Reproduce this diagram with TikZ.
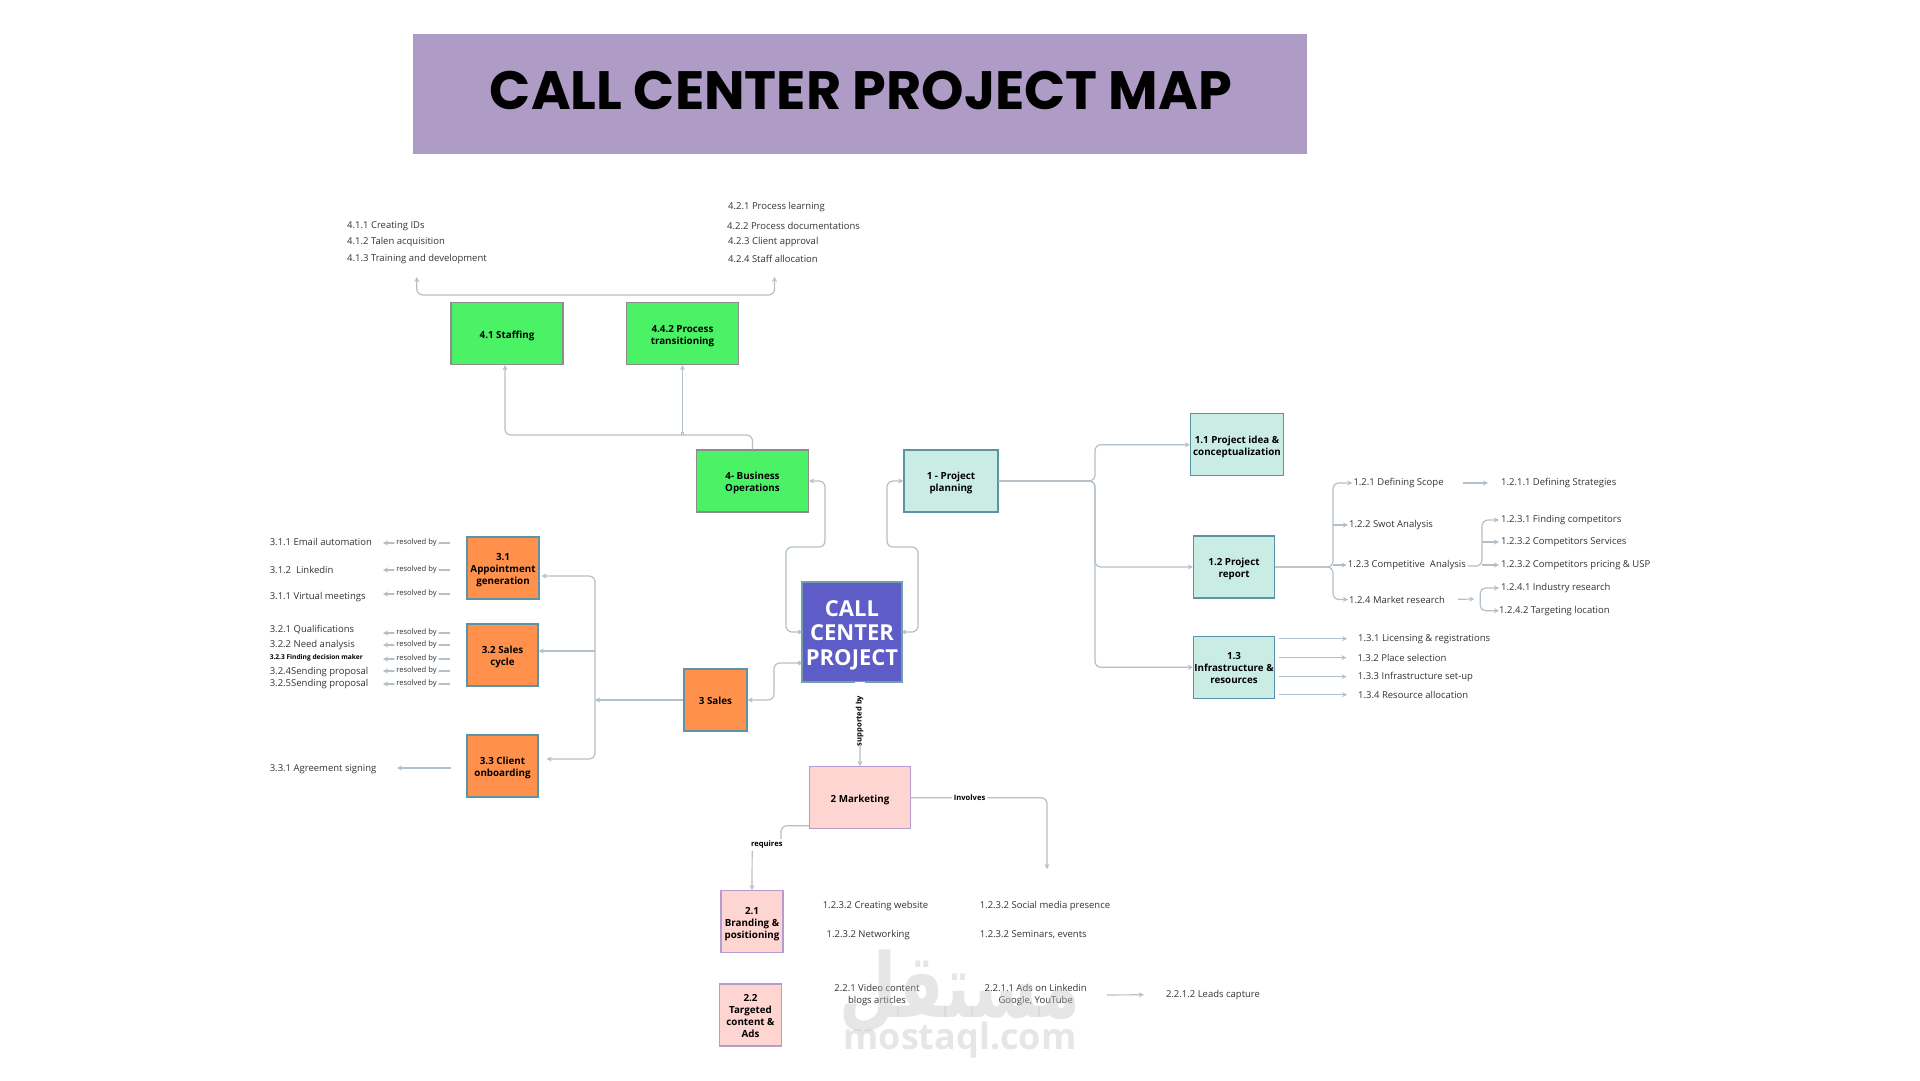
\documentclass[tikz,border=0pt]{standalone}
\usepackage{fontspec}
\setmainfont{Open Sans}
\newfontfamily\titlefont{Poppins}
\newfontfamily\arabicfont[Script=Arabic]{DejaVu Sans}
\TeXXeTstate=1
\usepackage{xcolor}
\definecolor{TitlePurple}{HTML}{AE9CC7}
\definecolor{CoreBlue}{HTML}{5E5CC7}
\definecolor{CoreEdge}{HTML}{6FA0AC}
\definecolor{PlanTeal}{HTML}{C9EDE5}
\definecolor{PlanEdge}{HTML}{5B93A8}
\definecolor{OpsGreen}{HTML}{4BF266}
\definecolor{OpsEdge}{HTML}{8C8C8C}
\definecolor{SalesOrange}{HTML}{FF914D}
\definecolor{MarketPink}{HTML}{FFD5D1}
\definecolor{MarketEdge}{HTML}{B39DD0}
\definecolor{FlowGray}{HTML}{B4C0C9}
\definecolor{ItemText}{HTML}{333333}
\usetikzlibrary{arrows.meta, positioning, calc}
\newcommand{\boxtxt}[1]{\rule{0pt}{12pt}#1\rule[-3pt]{0pt}{3pt}}

\begin{document}
\begin{tikzpicture}[
  x=1pt, y=-1pt,
  % Kaesten
  mapbox/.style={
    draw=#1,
    line width=1.3pt,
    align=center,
    inner sep=0pt,
    font=\fontsize{9.8}{12}\selectfont\bfseries
  },
  tealbox/.style={mapbox=PlanEdge, fill=PlanTeal},
  greenbox/.style={mapbox=OpsEdge, fill=OpsGreen},
  orangebox/.style={mapbox=PlanEdge, fill=SalesOrange},
  pinkbox/.style={mapbox=MarketEdge, fill=MarketPink},
  % Texte
  item/.style={
    anchor=west,
    inner sep=0pt,
    yshift=-1pt,
    text=ItemText,
    font=\fontsize{9.5}{11.5}\selectfont
  },
  midlbl/.style={
    fill=white,
    inner sep=2pt,
    text=ItemText,
    font=\fontsize{7.6}{9}\selectfont
  },
  boldlbl/.style={
    fill=white,
    inner sep=2pt,
    font=\fontsize{7.6}{9}\selectfont\bfseries
  },
  % Verbinder
  flow/.style={
    draw=FlowGray,
    line width=1.2pt,
    rounded corners=6pt,
    -{Stealth[length=5pt,width=5pt]}
  },
  flowboth/.style={
    flow,
    {Stealth[length=5pt,width=5pt]}-{Stealth[length=5pt,width=5pt]}
  },
  flowdot/.style={
    flow,
    {Circle[open,fill=white,length=4pt,width=4pt]}-{Stealth[length=5pt,width=5pt]}
  }
]

\useasboundingbox (0,0) rectangle (1920,1080);
\fill[white] (0,0) rectangle (1920,1080);

% =============================================================================
% TITEL
% =============================================================================
\node[fill=TitlePurple, minimum width=894pt, minimum height=120pt, inner sep=0pt] (titlebg) at (860,93.5) {};
\node[font=\fontsize{54}{60}\selectfont\titlefont\bfseries, inner sep=0pt] (title) at (861,90) {CALL CENTER PROJECT MAP};

% =============================================================================
% MITTE
% =============================================================================
\node[draw=CoreEdge, fill=CoreBlue, line width=1.3pt, text=white, align=center, inner sep=0pt,
      minimum width=100pt, minimum height=100pt,
      font=\fontsize{22}{24.7}\selectfont\bfseries] (ccp) at (852,632) {\rule{0pt}{22pt}CALL\\CENTER\\PROJECT};

% =============================================================================
% KAESTEN
% =============================================================================
\foreach \id/\x/\y/\w/\txt in {
  r1/951/481/94/{1 - Project\\planning},
  r11/1237/444.7/93/{1.1 Project idea \&\\conceptualization},
  r12/1234/567/81/{1.2 Project\\report},
  r13/1234/667.3/81/{1.3\\Infrastructure \&\\resources}} {
  \node[tealbox, minimum width=\w pt, minimum height=62pt] (\id) at (\x,\y) {\boxtxt{\txt}};
}
\foreach \id/\x/\y/\w/\txt in {
  r4/752.5/481/112/{4- Business\\Operations},
  r41/507/333.5/112/{4.1 Staffing},
  r42/682.5/333.5/112/{4.4.2 Process\\transitioning}} {
  \node[greenbox, minimum width=\w pt, minimum height=62pt] (\id) at (\x,\y) {\boxtxt{\txt}};
}
\foreach \id/\x/\y/\w/\txt in {
  r3/715.5/700/63/{3 Sales},
  r31/503/568/72/{3.1\\Appointment\\generation},
  r32/502.5/655/71/{3.2 Sales\\cycle},
  r33/502.5/766/71/{3.3 Client\\onboarding}} {
  \node[orangebox, minimum width=\w pt, minimum height=62pt] (\id) at (\x,\y) {\boxtxt{\txt}};
}
\foreach \id/\x/\y/\w/\txt in {
  r2/860/797.7/101/{2 Marketing},
  r21/752/921.7/62/{2.1\\Branding \&\\positioning},
  r22/750.5/1015/62/{2.2\\Targeted\\content \&\\Ads}} {
  \node[pinkbox, minimum width=\w pt, minimum height=62pt] (\id) at (\x,\y) {\boxtxt{\txt}};
}

% =============================================================================
% LISTEN
% =============================================================================
\foreach \id/\x/\y/\txt in {
  t411/347/225/{4.1.1 Creating IDs},
  t412/347/241/{4.1.2 Talen acquisition},
  t413/347/258/{4.1.3 Training and development},
  t421/728/206/{4.2.1 Process learning},
  t422/727/225/{4.2.2 Process documentations},
  t423/728/241/{4.2.3 Client approval},
  t424/728/258/{4.2.4 Staff allocation},
  t311/269.6/541/{3.1.1 Email automation},
  t312/269.6/569/{3.1.2\ \ Linkedin},
  t313/269.6/596/{3.1.1 Virtual meetings},
  t321/269.6/629/{3.2.1 Qualifications},
  t322/269.6/644/{3.2.2 Need analysis},
  t324/269.6/671/{3.2.4Sending proposal},
  t325/269.6/683/{3.2.5Sending proposal},
  t331/269.6/768/{3.3.1 Agreement signing},
  t121/1353.3/482/{1.2.1 Defining Scope},
  t1211/1501/482/{1.2.1.1 Defining Strategies},
  t122/1349/524/{1.2.2 Swot Analysis},
  t123/1347.7/564/{1.2.3 Competitive\ \ Analysis},
  t1231/1501/519/{1.2.3.1 Finding competitors},
  t1232/1501/541/{1.2.3.2 Competitors Services},
  t1233/1501/564/{1.2.3.2 Competitors pricing \& USP},
  t124/1349/598.5/{1.2.4 Market research},
  t1241/1501/587/{1.2.4.1 Industry research},
  t1242/1499/609.7/{1.2.4.2 Targeting location},
  t131/1358/637.7/{1.3.1 Licensing \& registrations},
  t132/1357.3/656.7/{1.3.2 Place selection},
  t133/1357.6/675.7/{1.3.3 Infrastructure set-up},
  t134/1358/693.7/{1.3.4 Resource allocation},
  t211/822.6/904.7/{1.2.3.2 Creating website},
  t212/826.5/933.7/{1.2.3.2 Networking},
  t213/979.6/904.7/{1.2.3.2 Social media presence},
  t214/979.6/933.7/{1.2.3.2 Seminars, events},
  t222/1165.8/993.7/{2.2.1.2 Leads capture}} {
  \node[item] (\id) at (\x,\y) {\txt};
}
\node[item, font=\fontsize{6.6}{8}\selectfont\bfseries, text=black] (t323) at (269.6,657) {3.2.3 Finding decision maker};
\node[item, anchor=center, align=center] (t220) at (877,994) {2.2.1 Video content\\blogs articles};
\node[item, anchor=center, align=center] (t221) at (1035.7,994) {2.2.1.1 Ads on Linkedin\\Google, YouTube};

% =============================================================================
% VERBINDER MITTE
% =============================================================================
\coordinate (hub4a) at (786,547);
\coordinate (hub4b) at (825,481);
\coordinate (hub1a) at (918,547);
\coordinate (hub1b) at (887,481);
\coordinate (hub3) at (774,700);
\draw[flowdot] (ccp.west) -| (hub4a) -| (hub4b) -- (r4.east);
\draw[flowdot] (ccp.east) -| (hub1a) -| (hub1b) -- (r1.west);
\draw[flowdot] ([yshift=-31pt]ccp.west) -| (hub3) -- (r3.east);

% 4 Business Operations
\coordinate (bus4) at (505,435);
\coordinate (top4a) at (416.8,277);
\coordinate (top4b) at (774.5,277);
\coordinate (top4m) at (600,295);
\draw[flow] (r4.north) |- (bus4) -- (bus4 |- r41.south);
\draw[flow, {Square[open,fill=white,length=3pt,width=3pt]}-{Stealth[length=5pt,width=5pt]}] (r42.south |- bus4) -- (r42.south);
\draw[flowboth] (top4a) |- (top4m) -| (top4b);

% 3 Sales
\coordinate (bus3) at (595,700);
\coordinate (bus3a) at (595,651);
\draw[flow] (r3.west) -- (bus3);
\draw[flowboth, shorten <=2pt, shorten >=8pt] ([yshift=-8pt]r31.east) -| (bus3) |- ([yshift=7pt]r33.east);
\draw[flow] (bus3a) -- (bus3a -| r32.east);

\foreach \i/\y in {1/543, 2/570, 3/594, 4/633, 5/645, 6/659, 7/671, 8/684} {
  \coordinate (rbs\i) at (450,\y);
  \coordinate (rbe\i) at (383,\y);
  \draw[flow] (rbs\i) -- node[midlbl] (rb\i) {resolved by} (rbe\i);
}
\coordinate (end331) at (397,768);
\coordinate (start331) at (450.7,768);
\draw[flow] (start331) -- (end331);

% 1 Project planning
\coordinate (bus1) at (1095,481);
\foreach \t in {r11,r12,r13} {
  \draw[flow] (r1.east) -- (bus1) |- (\t.west);
}
\coordinate (bus12) at (1333,567);
\draw[flow, shorten >=1pt] (r12.east) -- (bus12) |- (t121.west);
\draw[flow, shorten >=1pt] (r12.east) -- (bus12) |- (t124.west);
\draw[flow, shorten >=1pt] (bus12 |- t122.west) -- (t122.west);
\draw[flow, shorten >=1pt] (bus12 |- t123.west) -- (t123.west);
\draw[flow, shorten <=19pt, shorten >=13pt] (t121.east) -- (t1211.west);

\coordinate (bus123) at (1482,566);
\draw[flow, shorten <=2pt, shorten >=2pt] ([yshift=-1pt]t123.east) -- (bus123) |- (t1231.west);
\draw[flow, shorten >=2pt] (bus123 |- t1232.west) -- (t1232.west);
\draw[flow, shorten >=2pt] (bus123 |- t1233.west) -- (t1233.west);

\coordinate (bus124) at (1480.3,598.5);
\coordinate (in124) at (1474.3,599);
\draw[flow, shorten <=13pt] (t124.east) -- (in124);
\draw[flowboth, rounded corners=5pt, shorten <=2pt, shorten >=0pt] (t1241.west) -| (bus124) |- (t1242.west);

\foreach \i in {1,...,4} {
  \draw[flow] ([xshift=4pt]r13.east |- t13\i.west) -- ([xshift=-11pt]t13\i.west);
}

% 2 Marketing
\coordinate (supp) at (859.7,682);
\draw[flow] (supp) -- (r2.north);
\node[boldlbl, rotate=90, inner sep=0pt, minimum height=10pt, minimum width=64pt, align=center] (lblsupp) at (859.7,714) {supported by\hspace*{14pt}};
\coordinate (inv) at (1047,869);
\draw[flow] (r2.east) -| node[boldlbl, pos=0.215] (lblinv) {Involves} (inv);
\coordinate (req1) at (781,844);
\coordinate (req2) at (752.2,844);
\draw[flow] ([yshift=-28pt]r2.west) -| (req1) -- (req2) -- (r21.north);
\node[boldlbl, inner sep=2pt] (lblreq) at (766.8,845) {requires};
\draw[flow, shorten <=20pt, shorten >=22pt] (t221.east) -- (t222.west);

% =============================================================================
% WASSERZEICHEN
% =============================================================================
\node[text=black!25, opacity=0.38, inner sep=0pt, font=\fontsize{66}{70}\selectfont\arabicfont\bfseries] (wmar) at (960,992) {\scalebox{1}[1.35]{\beginR مستقل\endR}};
\node[text=black!25, opacity=0.38, inner sep=0pt, font=\fontsize{36}{42}\selectfont\bfseries] (wmen) at (960,1040) {mostaql.com};

\end{tikzpicture}
\end{document}
